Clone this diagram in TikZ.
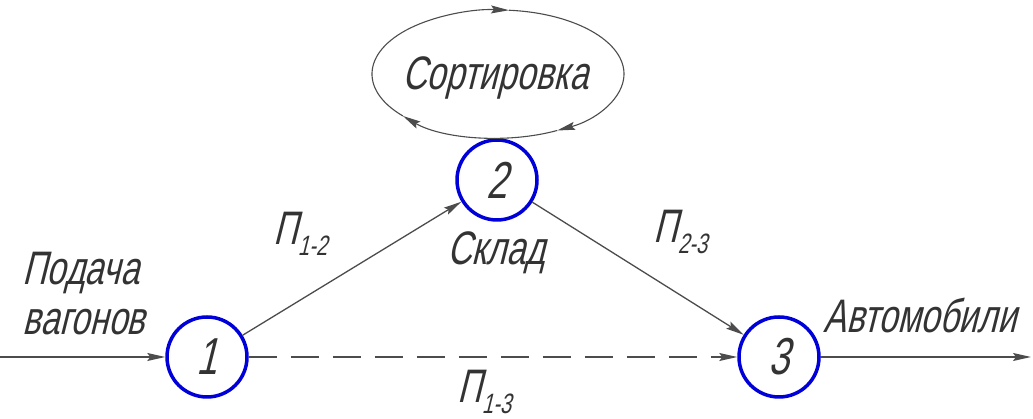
\documentclass[tikz,border=0pt]{standalone}
\usepackage{fontspec}
\newfontfamily\gostfont[FakeStretch=0.72,FakeSlant=0.25]{Liberation Sans}
\usetikzlibrary{arrows.meta,positioning,calc}
\newcommand{\pidx}[1]{\raisebox{-11pt}{\fontsize{28}{30}\selectfont #1}}

\begin{document}
\begin{tikzpicture}[x=1pt, y=1pt, line width=1.3pt,
        flow/.style={draw=black!70, -{Stealth[length=18pt,width=8pt,inset=3pt]}},
        station/.style={circle, draw=blue!85!black, line width=3.5pt, minimum size=80pt,
                        inner sep=0pt, text=black!80, font=\gostfont\fontsize{52}{56}\selectfont},
        lbl/.style={inner sep=0pt, text=black!80, font=\gostfont\fontsize{47}{50}\selectfont}]

    \useasboundingbox (0,0) rectangle (1033,419);

    % --- stations ---
                \node[station] (S1) at (207,62)  {1};   % feed
                \node[station] (S2) at (497,239) {2};   % store
                \node[station] (S3) at (779,62)  {3};   % dispatch

    % --- free ends ---
                \coordinate (In)  at (0,62);
                \coordinate (Out) at (1031,62);

    % --- sorting loop ---
                \coordinate (Ce) at (498,345);
                \def\Ra{126}   % x-radius
                \def\Rb{64}    % y-radius
                \foreach \s/\e in {85/-62, -62/-139, -139/-275}
                    \draw[flow, line width=1.1pt] (Ce) ++(\s:{\Ra} and {\Rb})
                        arc[start angle=\s, end angle=\e, x radius=\Ra, y radius=\Rb];

    % --- flows ---
                \draw[flow] (In) -- (S1);
                \draw[flow] (S1) -- (S2);
                \draw[flow] (S2) -- (S3);
                \draw[flow, dash pattern=on 28pt off 14pt] (S1) -- (S3);
                \draw[flow] (S3) -- (Out);

    % --- labels ---
                \node[lbl, anchor=base] (Sort) at (495,329) {Сортировка};
                \node[lbl, anchor=base] (Store) at (496,154) {Склад};
                \node[lbl, anchor=base west] (Feed) at (22,134) {Подача};
                \node[lbl, anchor=base west] (Wag) at (22,84) {вагонов};
                \node[lbl, anchor=base west] (Cars) at (823,86) {Автомобили};
                \node[lbl, anchor=base west] (P12) at (273,174) {П\pidx{1-2}};
                \node[lbl, anchor=base west] (P23) at (653,176) {П\pidx{2-3}};
                \node[lbl, anchor=base west] (P13) at (457,16) {П\pidx{1-3}};

            \end{tikzpicture}
\end{document}
